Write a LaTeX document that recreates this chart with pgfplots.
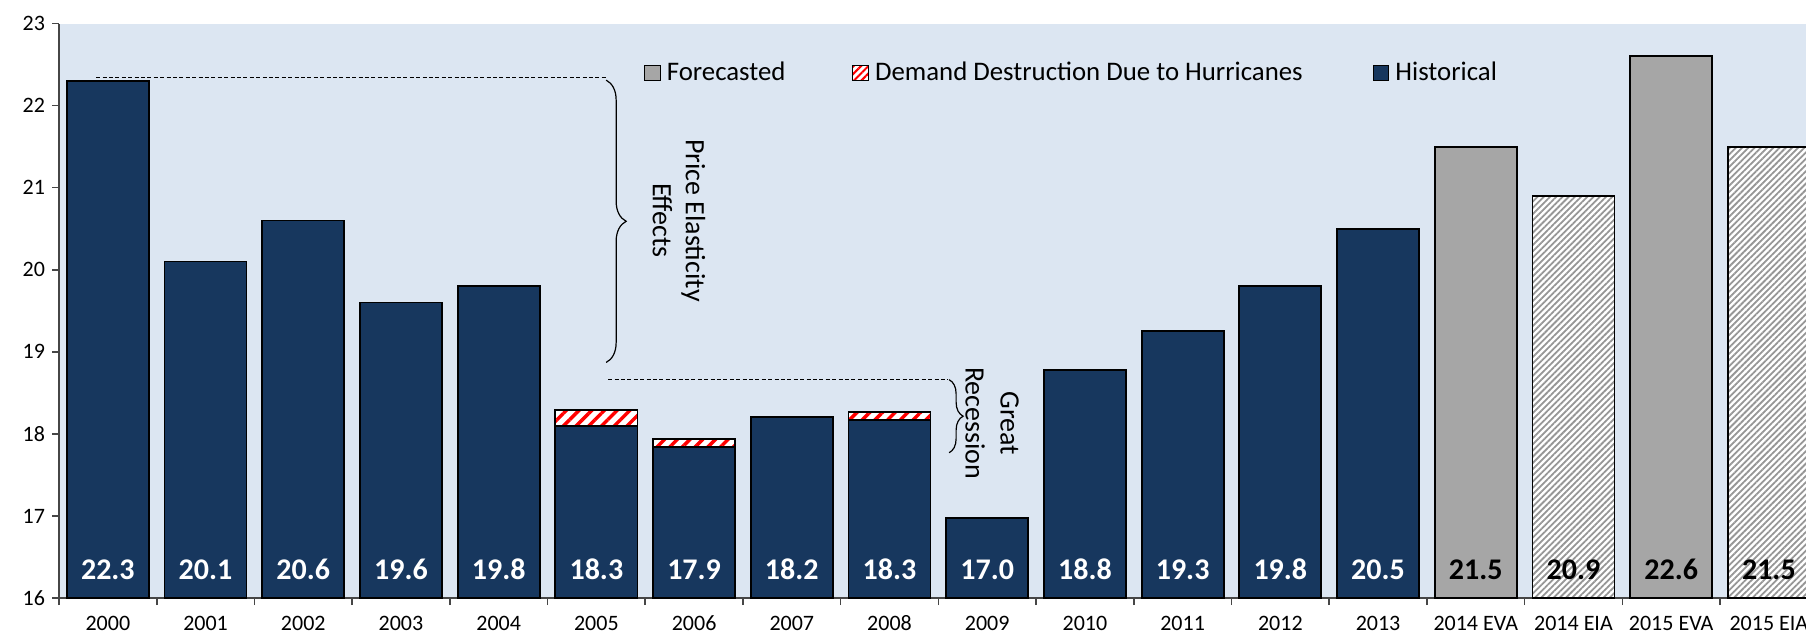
\documentclass[border=0pt]{standalone}
\usepackage{pgfplots}
\pgfplotsset{compat=1.18}
\usepackage{fontspec}
\setmainfont{Carlito}
\usetikzlibrary{patterns,patterns.meta,decorations.pathreplacing}
\definecolor{navy}{RGB}{23,55,94}
\definecolor{fgray}{RGB}{166,166,166}
\definecolor{hgray}{RGB}{150,150,150}
\definecolor{bgblue}{RGB}{220,230,242}
\definecolor{axgray}{RGB}{70,70,70}
\begin{document}
\begin{tikzpicture}
\begin{axis}[
  at={(0pt,0pt)}, anchor=south west,
  scale only axis, width=873.5pt, height=287.25pt,
  xmin=-0.5, xmax=17.38, ymin=16, ymax=23,
  axis background/.style={fill=bgblue},
  axis x line*=bottom, axis y line*=left,
  axis line style={-, line width=0.8pt, draw=axgray},
  ytick={16,17,...,23},
  xtick={0,1,...,17},
  xticklabels={2000,2001,2002,2003,2004,2005,2006,2007,2008,2009,2010,2011,2012,2013,2014 EVA,2014 EIA,2015 EVA,2015 EIA},
  minor xtick={-0.5,0.5,...,16.5},
  major x tick style={draw=none},
  tick align=outside,
  major tick length=3.5pt, minor tick length=3.5pt,
  tick style={line width=0.8pt, axgray},
  tick label style={font=\fontsize{11}{13}\selectfont, black},
  xticklabel style={anchor=north, text height=7.4pt, text depth=0pt, yshift=-2pt},
  /pgf/number format/assume math mode=true,
  legend columns=3,
  legend image code/.code={\draw[#1, line width=0.6pt] (0pt,-3.9pt) rectangle (7.8pt,3.9pt);},
  legend style={at={(0.3349,0.9138)}, anchor=west, draw=none, fill=none,
    inner sep=0pt, outer sep=0pt, font=\fontsize{13.4}{16}\selectfont,
    nodes={inner xsep=3pt, inner ysep=1pt},
    /tikz/column 2/.style={column sep=30pt},
    /tikz/column 4/.style={column sep=32pt}},
]
% legend
\addlegendimage{fill=fgray, draw=black}
\addlegendentry{Forecasted}
\addlegendimage{fill=white, draw=black, postaction={pattern={Lines[angle=45,distance=2.6pt,line width=1pt]}, pattern color=red}}
\addlegendentry{Demand Destruction Due to Hurricanes}
\addlegendimage{fill=navy, draw=black}
\addlegendentry{Historical}

% hurricane totals (red striped), drawn beneath historical
\addplot[ybar, bar width=0.84, bar shift=0pt, fill=white, draw=black, line width=0.9pt,
  postaction={pattern={Lines[angle=45,distance=4.5pt,line width=1.7pt]}, pattern color=red}, forget plot]
  coordinates {(5,18.29) (6,17.94) (8,18.27)};
% historical
\addplot[ybar, bar width=0.84, bar shift=0pt, fill=navy, draw=black, line width=0.9pt, forget plot]
  coordinates {(0,22.3) (1,20.1) (2,20.6) (3,19.6) (4,19.8) (5,18.10) (6,17.84) (7,18.21)
               (8,18.17) (9,16.97) (10,18.78) (11,19.25) (12,19.8) (13,20.5)};
% forecast EVA (solid gray)
\addplot[ybar, bar width=0.84, bar shift=0pt, fill=fgray, draw=black, line width=0.9pt, forget plot]
  coordinates {(14,21.5) (16,22.6)};
% forecast EIA (hatched gray)
\addplot[ybar, bar width=0.84, bar shift=0pt, fill=white, draw=black, line width=0.9pt,
  postaction={pattern={Lines[angle=45,distance=2.2pt,line width=0.9pt]}, pattern color=hgray}, forget plot]
  coordinates {(15,20.9) (17,21.5)};

% value labels
\addplot[draw=none, mark=none, forget plot, nodes near coords, point meta=explicit symbolic,
  every node near coord/.style={anchor=base, text=white, inner sep=0pt, font=\bfseries\fontsize{15}{18}\selectfont}]
  coordinates {(0,16.22)[22.3] (1,16.22)[20.1] (2,16.22)[20.6] (3,16.22)[19.6] (4,16.22)[19.8]
    (5,16.22)[18.3] (6,16.22)[17.9] (7,16.22)[18.2] (8,16.22)[18.3] (9,16.22)[17.0]
    (10,16.22)[18.8] (11,16.22)[19.3] (12,16.22)[19.8] (13,16.22)[20.5]};
\addplot[draw=none, mark=none, forget plot, nodes near coords, point meta=explicit symbolic,
  every node near coord/.style={anchor=base, text=black, inner sep=0pt, font=\bfseries\fontsize{15}{18}\selectfont}]
  coordinates {(14,16.22)[21.5] (15,16.22)[20.9] (16,16.22)[22.6] (17,16.22)[21.5]};

% dashed reference lines
\addplot[black, line width=0.5pt, dash pattern=on 2pt off 1.2pt, forget plot]
  coordinates {(-0.12,22.34) (5.10,22.34)};
\addplot[black, line width=0.5pt, dash pattern=on 2pt off 1.2pt, forget plot]
  coordinates {(5.12,18.66) (8.60,18.66)};

% braces
\draw[decorate, decoration={brace, amplitude=10pt}, line width=0.6pt]
  (axis cs:5.10,22.31) -- (axis cs:5.10,18.87);
\draw[decorate, decoration={brace, amplitude=7pt}, line width=0.6pt]
  (axis cs:8.61,18.66) -- (axis cs:8.61,17.77);

\node[rotate=-90, align=center, font=\fontsize{14}{16.5}\selectfont] at (axis cs:5.846,20.60) {Price Elasticity\\Effects};
\node[rotate=-90, align=center, font=\fontsize{14}{17.5}\selectfont] at (axis cs:9.05,18.13) {Great\\Recession};
\end{axis}
\pgfresetboundingbox
\useasboundingbox (-29.5pt,-17.5pt) rectangle (873.5pt,299pt);
\end{tikzpicture}
\end{document}
